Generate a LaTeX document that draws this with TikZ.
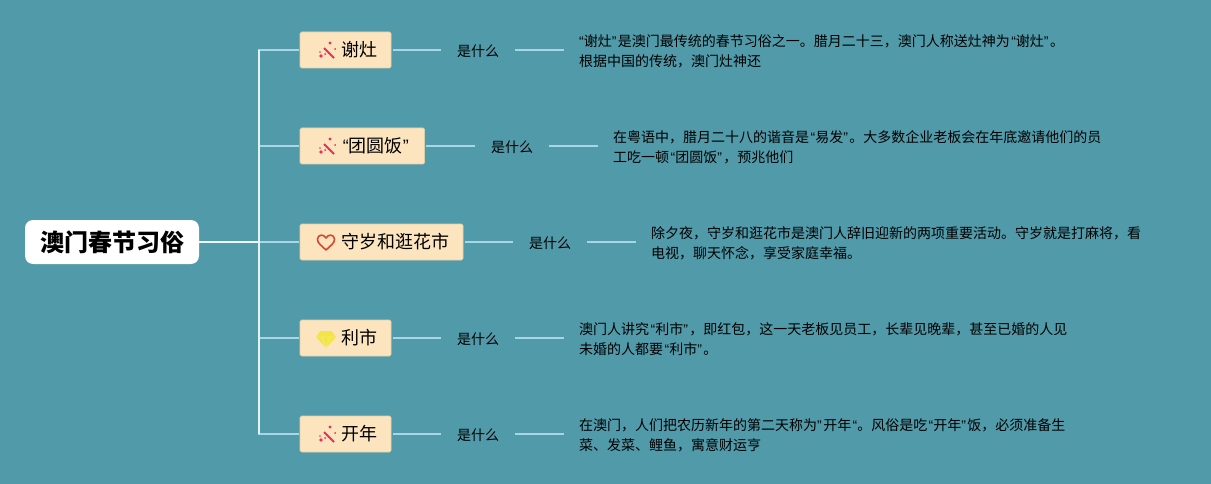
\documentclass[tikz,border=0pt]{standalone}
\usepackage{fontspec}
\usepackage{xcolor}
\setmainfont{Noto Sans CJK SC}
\newfontfamily\quotefont{Liberation Sans}
\newcommand{\qL}{\hspace{.1em}{\quotefont “}}
\newcommand{\qR}{{\quotefont ”}\hspace{.1em}}
\newcommand{\boxtext}[1]{\hspace*{27pt}\raisebox{-1pt}{#1}}
\definecolor{bgteal}{HTML}{519AA9}
\definecolor{boxfill}{HTML}{FCE4BF}
\definecolor{boxline}{HTML}{E3D2A6}
\definecolor{branchline}{HTML}{A9D6E5}
\definecolor{wandred}{HTML}{E8305A}
\definecolor{heartred}{HTML}{D8472F}
\definecolor{gemyellow}{HTML}{F3E548}
\tikzset{
  wand/.pic={
    \draw [wandred,line width=1.8pt] (-3,-3) -- (7,7);
    \fill [wandred] (-6,5) circle (1.8) (-2,3) circle (1) (-7,1) circle (0.8);
    \fill [wandred] (3,-8) circle (1.7) (8,-2) circle (1);
  },
  heart/.pic={
    \draw [heartred,line width=1.6pt,line join=round] (0,8)
      .. controls (-4,4) and (-9,1) .. (-8.5,-3)
      .. controls (-8,-8) and (-2,-8) .. (0,-4)
      .. controls (2,-8) and (8,-8) .. (8.5,-3)
      .. controls (9,1) and (4,4) .. (0,8) -- cycle;
  },
  gem/.pic={
    \fill [gemyellow] (-5.5,-8) -- (5.5,-8) -- (10,-2) -- (0,9) -- (-10,-2) -- cycle;
    \draw [gemyellow!60!white,line width=0.4pt] (-10,-2) -- (10,-2) (-4,-2) -- (0,9) -- (4,-2);
  }
}
\begin{document}
\begin{tikzpicture}[x=1pt,y=-1pt]
\fill [bgteal] (0,0) rectangle (1211,484);
\useasboundingbox (0,0) rectangle (1211,484);

\node (root) at (112,242) [fill=white,rounded corners=8pt,minimum width=174pt,minimum height=44pt,inner sep=0pt,
    font=\fontsize{24}{28}\selectfont\bfseries] {\raisebox{-2pt}{\hspace{1pt}澳门春节习俗}};

\begin{scope}[every node/.style={anchor=west,fill=boxfill,draw=boxline,line width=0.6pt,rounded corners=1.5pt,
    minimum height=36pt,inner xsep=14pt,inner ysep=0pt,outer sep=1.5pt,font=\fontsize{18}{22}\selectfont}]
    \node (zao) at (298.5,50) {\boxtext{谢灶}};
    \node (fan) at (298.5,146) {\boxtext{\qL 团圆饭\qR}};
    \node (shou) at (298.5,242) {\boxtext{守岁和逛花市}};
    \node (lishi) at (298.5,338) {\boxtext{利市}};
    \node (kai) at (298.5,434) {\boxtext{开年}};
\end{scope}

\pic at (327,51) {wand};
\pic at (327,147) {wand};
\pic at (326,242) {heart};
\pic at (326,339) {gem};
\pic at (327,435) {wand};

\begin{scope}[every node/.style={anchor=west,inner xsep=16pt,inner ysep=2pt,font=\fontsize{14}{16}\selectfont}]
    \node (zaoq) at (441,51) {是什么};
    \node (fanq) at (475,147) {是什么};
    \node (shouq) at (513,243) {是什么};
    \node (lishiq) at (441,339) {是什么};
    \node (kaiq) at (441,435) {是什么};
\end{scope}

\begin{scope}[every node/.style={anchor=west,align=left,inner xsep=15pt,inner ysep=0pt,font=\fontsize{14}{20}\selectfont}]
    \node (zaot) at (564,51) {\hspace{-.1em}\qL 谢灶\qR 是澳门最传统的春节习俗之一。腊月二十三，澳门人称送灶神为\qL 谢灶\qR 。\\根据中国的传统，澳门灶神还};
    \node (fant) at (598,147) {在粤语中，腊月二十八的谐音是\qL 易发\qR 。大多数企业老板会在年底邀请他们的员\\工吃一顿\qL 团圆饭\qR ，预兆他们};
    \node (shout) at (636,243) {除夕夜，守岁和逛花市是澳门人辞旧迎新的两项重要活动。守岁就是打麻将，看\\电视，聊天怀念，享受家庭幸福。};
    \node (lishit) at (564,339) {澳门人讲究\qL 利市\qR ，即红包，这一天老板见员工，长辈见晚辈，甚至已婚的人见\\未婚的人都要\qL 利市\qR 。};
    \node (kait) at (564,435) {在澳门，人们把农历新年的第二天称为{\quotefont ”}\hspace{.1em}开年\hspace{.1em}{\quotefont “}。风俗是吃\qL 开年\qR 饭，必须准备生\\菜、发菜、鲤鱼，寓意财运亨};
\end{scope}

\coordinate (trunk) at (259,242);

\begin{scope}[every path/.style={draw=branchline,line width=1.3pt}]
    \path (trunk) |- (zao);
    \path (trunk) |- (fan);
    \path (trunk) -- (shou);
    \path (trunk) |- (lishi);
    \path (trunk) |- (kai);
    \path (zao.east) -- (zao.east -| zaoq.west);
    \path (fan.east) -- (fan.east -| fanq.west);
    \path (shou.east) -- (shou.east -| shouq.west);
    \path (lishi.east) -- (lishi.east -| lishiq.west);
    \path (kai.east) -- (kai.east -| kaiq.west);
    \path (zao.east -| zaoq.east) -- (zao.east -| zaot.west);
    \path (fan.east -| fanq.east) -- (fan.east -| fant.west);
    \path (shou.east -| shouq.east) -- (shou.east -| shout.west);
    \path (lishi.east -| lishiq.east) -- (lishi.east -| lishit.west);
    \path (kai.east -| kaiq.east) -- (kai.east -| kait.west);
\end{scope}
\draw [white!85!branchline,line width=1.5pt] (root) -- (trunk);
\draw [white!70!branchline,line width=1.5pt] (zao -| trunk) -- (kai -| trunk);
\end{tikzpicture}
\end{document}
